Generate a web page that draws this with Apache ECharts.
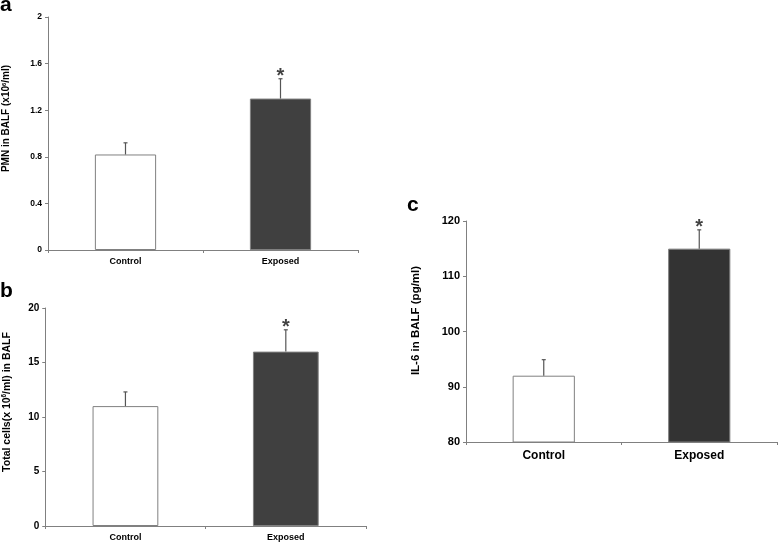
<!DOCTYPE html>
<html>
<head>
<meta charset="utf-8">
<script src="https://cdn.jsdelivr.net/npm/echarts@6/dist/echarts.min.js"></script>
<style>
  html, body { margin: 0; padding: 0; background: #fff; }
  #chart { width: 778px; height: 545px; }
</style>
</head>
<body>
<div id="chart"></div>
<script>
// groups on the x axis
const categories = ['Control', 'Exposed'];

// panel a: PMN in BALF (x10^6/ml)
const pmnMean = [0.82, 1.30];
const pmnErr = [0.10, 0.17];
const pmnTicks = [0, 2, 0.4];

// panel b: total cells (x10^6/ml) in BALF
const cellsMean = [11.0, 16.0];
const cellsErr = [1.3, 2.0];
const cellsTicks = [0, 20, 5];

// panel c: IL-6 in BALF (pg/ml)
const il6Mean = [92, 115];
const il6Err = [2.9, 3.4];
const il6Ticks = [80, 120, 10];

// which group is marked as significant
const significant = [false, true];

const FONT = 'Liberation Sans, Arial, sans-serif';
const AXIS_COLOR = '#808080';

const chart = echarts.init(document.getElementById('chart'));

function xAxisFor(gridIndex, fontSize, margin) {
  return {
    type: 'category',
    gridIndex: gridIndex,
    data: categories,
    axisLine: { lineStyle: { color: AXIS_COLOR, width: 1 } },
    axisTick: { show: true, length: 3, lineStyle: { color: AXIS_COLOR } },
    axisLabel: { color: '#000', fontWeight: 'bold', fontSize: fontSize, fontFamily: FONT, margin: margin }
  };
}

function yAxisFor(gridIndex, ticks, name, fontSize, nameSize, nameGap, shift, decimals) {
  return {
    type: 'value',
    gridIndex: gridIndex,
    min: ticks[0],
    max: ticks[1],
    interval: ticks[2],
    name: name,
    nameLocation: 'middle',
    nameGap: nameGap,
    nameTextStyle: {
      color: '#000', fontWeight: 'bold', fontSize: nameSize, fontFamily: FONT,
      padding: [0, 0, 0, shift],
      rich: {
        sup: { fontSize: nameSize * 0.6, fontWeight: 'bold', verticalAlign: 'top', padding: [0, 0, nameSize * 0.5, 0] }
      }
    },
    splitLine: { show: false },
    axisLine: { show: true, lineStyle: { color: AXIS_COLOR, width: 1 } },
    axisTick: { show: true, length: 3, lineStyle: { color: AXIS_COLOR } },
    axisLabel: {
      color: '#000', fontWeight: 'bold', fontSize: fontSize, fontFamily: FONT, margin: 6,
      formatter: (v) => decimals ? (v === 0 || v === 2 ? String(v) : v.toFixed(1)) : String(v)
    }
  };
}

// bar colours per group
function barData(means, darkColor) {
  return means.map((v, i) => ({
    value: v,
    itemStyle: { color: i === 0 ? '#ffffff' : darkColor }
  }));
}

function errorSeries(axisIndex, means, errs) {
  return {
    type: 'custom',
    xAxisIndex: axisIndex,
    yAxisIndex: axisIndex,
    z: 3,
    data: means.map((m, i) => [i, m, m + errs[i]]),
    renderItem: (params, api) => {
      const base = api.coord([api.value(0), api.value(1)]);
      const top = api.coord([api.value(0), api.value(2)]);
      const style = { stroke: '#555', lineWidth: 1.2 };
      return {
        type: 'group',
        children: [
          { type: 'line', shape: { x1: base[0], y1: base[1], x2: top[0], y2: top[1] }, style: style },
          { type: 'line', shape: { x1: top[0] - 2, y1: top[1], x2: top[0] + 2, y2: top[1] }, style: style }
        ]
      };
    }
  };
}

function starSeries(axisIndex, means, errs, size) {
  return {
    type: 'scatter',
    xAxisIndex: axisIndex,
    yAxisIndex: axisIndex,
    symbolSize: 0,
    silent: true,
    data: means.map((m, i) => significant[i] ? [i, m + errs[i]] : null).filter(d => d),
    label: {
      show: true, position: 'top', distance: 0, offset: [0, 8], formatter: '*',
      color: '#111', fontWeight: 'bold', fontSize: size, fontFamily: FONT
    }
  };
}

function barSeries(axisIndex, means, darkColor, width) {
  return {
    type: 'bar',
    xAxisIndex: axisIndex,
    yAxisIndex: axisIndex,
    barWidth: width,
    data: barData(means, darkColor),
    itemStyle: { borderColor: AXIS_COLOR, borderWidth: 1 }
  };
}

const option = {
  animation: false,
  backgroundColor: '#fff',
  textStyle: { fontFamily: FONT },
  grid: [
    { left: 44, top: 17, width: 314, height: 233 },
    { left: 43, top: 308, width: 323, height: 218 },
    { left: 466, top: 221, width: 311, height: 221 }
  ],
  xAxis: [
    xAxisFor(0, 9, 7),
    xAxisFor(1, 9, 7),
    xAxisFor(2, 12, 8)
  ],
  yAxis: [
    yAxisFor(0, pmnTicks, 'PMN in BALF (x10{sup|6}/ml)', 8.5, 10, 36, 30, true),
    yAxisFor(1, cellsTicks, 'Total cells(x 10{sup|6}/ml) in BALF', 10, 10.5, 33, 30, false),
    yAxisFor(2, il6Ticks, 'IL-6 in BALF (pg/ml)', 11, 11.5, 44, 22, false)
  ],
  series: [
    barSeries(0, pmnMean, '#404040', '39.5%'),
    errorSeries(0, pmnMean, pmnErr),
    starSeries(0, pmnMean, pmnErr, 20),
    barSeries(1, cellsMean, '#404040', '41%'),
    errorSeries(1, cellsMean, cellsErr),
    starSeries(1, cellsMean, cellsErr, 20),
    barSeries(2, il6Mean, '#333333', '40%'),
    errorSeries(2, il6Mean, il6Err),
    starSeries(2, il6Mean, il6Err, 20)
  ],
  graphic: [
    { type: 'text', left: 0, top: -5, style: { text: 'a', font: 'bold 21px ' + FONT, fill: '#000' } },
    { type: 'text', left: 0, top: 281, style: { text: 'b', font: 'bold 21px ' + FONT, fill: '#000' } },
    { type: 'text', left: 407, top: 195, style: { text: 'c', font: 'bold 21px ' + FONT, fill: '#000' } }
  ]
};

chart.setOption(option);
</script>
</body>
</html>
